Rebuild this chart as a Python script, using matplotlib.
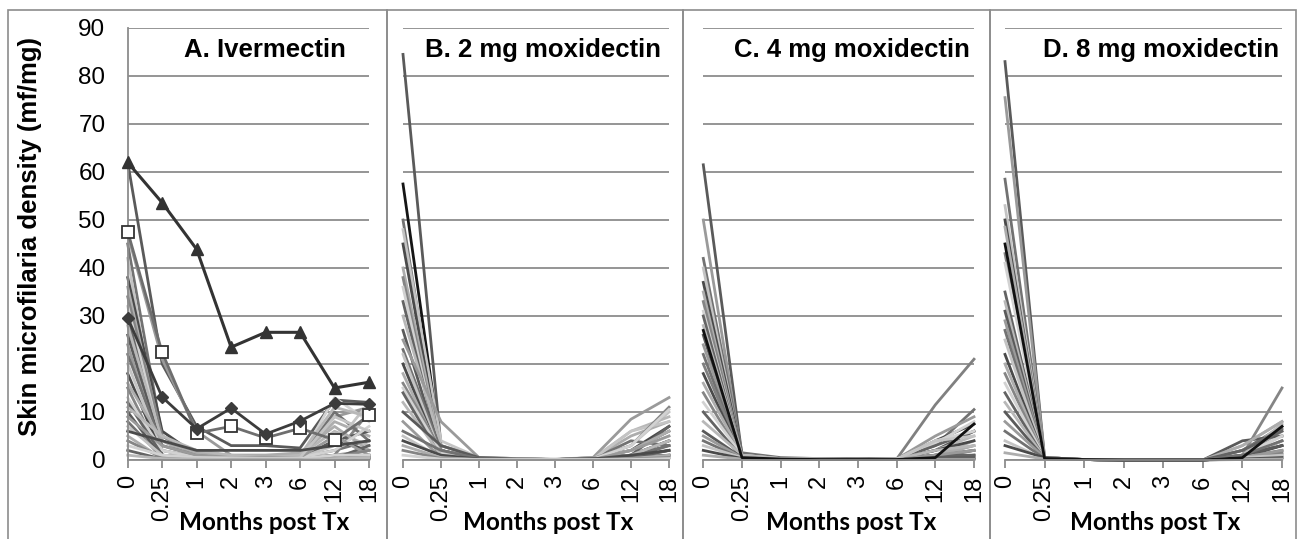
import numpy as np
import matplotlib.pyplot as plt
from matplotlib.patches import Rectangle

# category labels (months after treatment)
months = ["0", "0.25", "1", "2", "3", "6", "12", "18"]

# Panel A - ivermectin, highlighted participants
ivm_triangle = [62, 53.6, 43.9, 23.5, 26.6, 26.6, 15.0, 16.2]
ivm_square = [47.6, 22.4, 5.6, 7.0, 4.6, 6.6, 4.2, 9.3]
ivm_diamond = [29.6, 13.1, 6.5, 10.8, 5.4, 8.1, 11.8, 11.6]

# Panel A - other participants
ivm_lines = [
    [62, 20, 7, 3, 3, 2.5, 12.5, 12],
    [47, 21, 6, 1, 1, 1, 9, 11],
    [45, 5, 1, 0.5, 0.5, 0.5, 2, 4],
    [42, 1, 0.5, 0.3, 0.2, 0.3, 0.5, 1],
    [38, 6, 1, 0.5, 0.5, 0.5, 4, 2],
    [36, 4, 0.5, 0.3, 0.2, 0.5, 8, 5],
    [34, 5, 1, 0.5, 0.3, 0.5, 1, 10],
    [32, 3, 0.5, 0.2, 0.2, 0.3, 13, 8],
    [30, 1, 0.2, 0.1, 0.1, 0.2, 0.3, 0.5],
    [28, 4, 2, 0.5, 0.5, 1, 6, 3],
    [26, 2, 0.5, 0.2, 0.2, 0.3, 4, 6],
    [24, 1, 0.5, 0.3, 0.2, 0.3, 1, 2],
    [22, 3, 1, 0.5, 0.5, 0.5, 10, 4],
    [20, 2, 0.5, 0.3, 0.3, 0.5, 3, 12],
    [18, 1, 0.3, 0.2, 0.1, 0.2, 0.5, 1],
    [16, 4, 1.5, 1, 1, 1.5, 7, 2],
    [15, 0.5, 0.2, 0.1, 0.1, 0.1, 0.5, 0.5],
    [13, 2, 0.5, 0.3, 0.2, 0.5, 2, 7],
    [12, 1, 0.3, 0.2, 0.1, 0.2, 0.3, 3],
    [11, 5, 2, 1, 0.5, 1, 11, 9],
    [10, 0.5, 0.2, 0.1, 0.1, 0.1, 1, 0.5],
    [9, 3, 1, 0.5, 0.5, 0.5, 5, 1],
    [8, 0.5, 0.2, 0.1, 0.1, 0.1, 0.3, 0.5],
    [7, 1, 0.5, 0.5, 0.3, 0.5, 9, 6],
    [6, 4, 2, 2, 2, 2, 3, 4],
    [5, 0.3, 0.1, 0.1, 0.1, 0.1, 0.2, 0.3],
    [4, 0.5, 0.3, 0.2, 0.2, 0.2, 0.5, 2],
    [3, 1, 0.5, 0.3, 0.3, 0.3, 1, 1],
    [2, 0.2, 0.1, 0.1, 0.1, 0.1, 0.1, 0.2],
    [1, 0.3, 0.2, 0.1, 0.1, 0.1, 0.3, 0.5],
]

# Panel B - 2 mg moxidectin
mox2_lines = [
    [84.5, 3, 0.5, 0.3, 0.1, 0.5, 2, 6],
    [57.5, 2, 0.3, 0.1, 0.1, 0.3, 1, 4],
    [50, 1, 0.3, 0.2, 0.1, 0.2, 1, 3],
    [48, 4, 0.5, 0.3, 0.2, 0.5, 3, 10],
    [45, 1, 0.3, 0.1, 0.1, 0.3, 2, 7],
    [40, 2, 0.3, 0.2, 0.1, 0.3, 5, 8],
    [38, 0.5, 0.2, 0.1, 0.1, 0.2, 1, 4],
    [36, 0.5, 0.2, 0.1, 0.1, 0.2, 2, 5],
    [33, 1, 0.3, 0.1, 0.1, 0.3, 1, 7],
    [30, 3, 0.5, 0.2, 0.1, 0.3, 6, 9],
    [27, 1, 0.3, 0.1, 0.1, 0.3, 0.5, 2],
    [25, 8, 0.5, 0.3, 0.1, 0.5, 8.5, 13],
    [23, 2, 0.3, 0.2, 0.1, 0.2, 4, 3],
    [22, 1, 0.2, 0.1, 0.1, 0.2, 6, 8],
    [20, 0.5, 0.2, 0.1, 0.1, 0.2, 0.5, 1],
    [18, 1, 0.3, 0.2, 0.1, 0.3, 2, 6],
    [16, 2, 0.3, 0.1, 0.1, 0.3, 3, 11],
    [15, 1.5, 0.3, 0.1, 0.1, 0.2, 3, 10.5],
    [14, 0.5, 0.2, 0.1, 0.1, 0.1, 0.5, 2],
    [12, 1, 0.3, 0.2, 0.1, 0.2, 1, 4],
    [10, 3, 0.5, 0.2, 0.1, 0.3, 0.5, 1],
    [8, 0.5, 0.2, 0.1, 0.1, 0.1, 2, 5],
    [6, 2, 0.3, 0.1, 0.1, 0.2, 0.5, 3],
    [5, 0.5, 0.1, 0.1, 0.1, 0.1, 0.2, 0.5],
    [4, 1, 0.2, 0.1, 0.1, 0.2, 1, 2],
    [3, 0.5, 0.1, 0.1, 0.1, 0.1, 0.3, 1],
    [2, 0.3, 0.1, 0.1, 0.1, 0.1, 0.2, 0.5],
    [1, 0.2, 0.1, 0.1, 0.1, 0.1, 0.1, 0.3],
]

# Panel C - 4 mg moxidectin
mox4_lines = [
    [61.5, 1, 0.3, 0.2, 0.2, 0.3, 2, 6],
    [50, 0.5, 0.2, 0.1, 0.1, 0.2, 1, 3],
    [42, 1.5, 0.5, 0.3, 0.2, 0.3, 3, 10.5],
    [40, 0.5, 0.2, 0.1, 0.1, 0.1, 0.5, 2],
    [37, 1, 0.3, 0.2, 0.2, 0.2, 4, 7.5],
    [35, 0.5, 0.2, 0.1, 0.1, 0.1, 1, 4],
    [33, 1, 0.3, 0.2, 0.1, 0.2, 0.5, 1],
    [31, 0.5, 0.2, 0.1, 0.1, 0.1, 3.5, 8],
    [30, 0.5, 0.2, 0.1, 0.1, 0.1, 3, 6],
    [28, 1, 0.3, 0.2, 0.1, 0.2, 2, 5],
    [26, 0.5, 0.2, 0.1, 0.1, 0.2, 1, 2],
    [24, 1, 0.3, 0.2, 0.2, 0.2, 5, 9],
    [22, 0.5, 0.2, 0.1, 0.1, 0.1, 0.3, 1],
    [20, 1, 0.3, 0.2, 0.1, 0.2, 11.5, 21],
    [18, 0.5, 0.2, 0.1, 0.1, 0.1, 2, 4],
    [16, 1, 0.3, 0.2, 0.1, 0.2, 1, 3],
    [14, 0.5, 0.2, 0.1, 0.1, 0.1, 0.5, 2],
    [12, 1, 0.2, 0.1, 0.1, 0.2, 4, 6],
    [10, 0.5, 0.2, 0.1, 0.1, 0.1, 1, 1],
    [8, 1, 0.3, 0.2, 0.1, 0.2, 2, 3],
    [6, 0.5, 0.1, 0.1, 0.1, 0.1, 0.5, 0.5],
    [5, 0.5, 0.2, 0.1, 0.1, 0.1, 1, 2],
    [4, 0.3, 0.1, 0.1, 0.1, 0.1, 0.3, 0.3],
    [3, 0.5, 0.2, 0.1, 0.1, 0.1, 4, 5],
    [2, 0.3, 0.1, 0.1, 0.1, 0.1, 0.2, 0.2],
    [1, 0.2, 0.1, 0.1, 0.1, 0.1, 0.1, 0.1],
    [27, 0.5, 0.2, 0.1, 0.1, 0.1, 0.5, 7.5],
]

# Panel D - 8 mg moxidectin
mox8_lines = [
    [83, 0.5, 0.1, 0, 0, 0, 0.5, 3],
    [75.5, 0.5, 0.1, 0, 0, 0, 1, 6],
    [58.5, 0.3, 0.1, 0, 0, 0, 2, 7],
    [53, 0.5, 0.1, 0, 0, 0, 1, 5],
    [50, 0.3, 0.1, 0, 0, 0, 0.5, 4],
    [48.5, 0.5, 0.1, 0, 0, 0, 3, 8],
    [43, 0.3, 0.1, 0, 0, 0, 1, 15],
    [41, 0.5, 0.1, 0, 0, 0, 2, 6],
    [35, 0.3, 0.1, 0, 0, 0, 0.5, 2],
    [33, 0.5, 0.1, 0, 0, 0, 1, 7.5],
    [31, 0.3, 0.1, 0, 0, 0, 4, 5],
    [29, 0.5, 0.1, 0, 0, 0, 1, 1],
    [27, 0.3, 0.1, 0, 0, 0, 2, 6.5],
    [25, 0.5, 0.1, 0, 0, 0, 0.5, 4],
    [22, 0.3, 0.1, 0, 0, 0, 1, 3],
    [20, 0.5, 0.1, 0, 0, 0, 3, 8],
    [18, 0.3, 0.1, 0, 0, 0, 0.5, 1.5],
    [16, 0.5, 0.1, 0, 0, 0, 1, 5],
    [14, 0.3, 0.1, 0, 0, 0, 2, 6],
    [12, 0.5, 0.1, 0, 0, 0, 0.5, 0.5],
    [10, 0.3, 0.1, 0, 0, 0, 1, 3],
    [8, 0.5, 0.1, 0, 0, 0, 0.5, 2],
    [6, 0.3, 0.1, 0, 0, 0, 1, 4],
    [4, 0.2, 0.1, 0, 0, 0, 0.5, 1],
    [3, 0.5, 0.1, 0, 0, 0, 0.2, 0.5],
    [1.5, 0.2, 0.1, 0, 0, 0, 0.1, 0.2],
    [45, 0.3, 0.1, 0, 0, 0, 0.5, 7],
]

titles = ["A. Ivermectin", "B. 2 mg moxidectin", "C. 4 mg moxidectin", "D. 8 mg moxidectin"]
panel_data = [ivm_lines, mox2_lines, mox4_lines, mox8_lines]

greys = ["#5a5a5a", "#9a9a9a", "#727272", "#c4c4c4", "#4a4a4a", "#adadad", "#858585", "#d2d2d2", "#636363", "#b8b8b8"]

W, H = 1298, 539
fig = plt.figure(figsize=(W / 100, H / 100), dpi=100)

# pixel layout: plot area left/right, chart frame left/right
plot_x = [(127.7, 369), (403, 669), (703.3, 974), (1005, 1282)]
frames = [(8, 387), (387, 683), (683, 990), (990, 1296)]
title_x = [0.905, 0.97, 0.985, 0.989]
y_top, y_bot = 28, 460

for (fx0, fx1) in frames:
    fig.patches.append(Rectangle((fx0 / W, -0.05), (fx1 - fx0) / W, 1.05 - 10 / H,
                                 transform=fig.transFigure, fill=False,
                                 edgecolor="#8c8c8c", lw=1.2))

x = np.arange(len(months))
for i, (x0, x1) in enumerate(plot_x):
    ax = fig.add_axes([x0 / W, (H - y_bot) / H, (x1 - x0) / W, (y_bot - y_top) / H])
    ax.set_xlim(0, len(months) - 1)
    ax.set_ylim(0, 90)
    ax.set_yticks(np.arange(0, 91, 10))
    ax.grid(axis="y", color="#8c8c8c", lw=1.3)
    ax.set_axisbelow(True)
    for s in ["top", "right"]:
        ax.spines[s].set_visible(False)
    ax.spines["bottom"].set_color("#8c8c8c")
    ax.spines["bottom"].set_linewidth(1.3)
    if i == 0:
        ax.spines["left"].set_color("#8c8c8c")
        ax.spines["left"].set_linewidth(1.3)
        ax.tick_params(axis="y", length=0, pad=16, labelsize=17.5)
        for lab in ax.get_yticklabels():
            lab.set_family("Liberation Sans")
    else:
        ax.spines["left"].set_visible(False)
        ax.tick_params(axis="y", length=0, labelleft=False)

    ax.set_xticks(x)
    ax.set_xticklabels(months, rotation=90, family="Liberation Sans", fontsize=17)
    ax.tick_params(axis="x", length=6, width=1.3, color="#8c8c8c", pad=5)

    n = len(panel_data[i])
    for j, vals in enumerate(panel_data[i]):
        c = greys[j % len(greys)]
        if i in (2, 3) and j == n - 1:
            c = "#111111"
        if i == 1 and j == 1:
            c = "#151515"
        if i == 2 and j == 13:
            c = "#808080"
        ax.plot(x, vals, color=c, lw=2.0, clip_on=False, zorder=2 + j * 0.01)

    if i == 0:
        ax.plot(x, ivm_square, color="#6e6e6e", lw=2.0, marker="s", ms=8,
                mfc="white", mec="#333333", mew=1.3, clip_on=False, zorder=4)
        ax.plot(x, ivm_diamond, color="#3c3c3c", lw=2.0, marker="D", ms=6.5,
                mfc="#3c3c3c", mec="#3c3c3c", clip_on=False, zorder=5)
        ax.plot(x, ivm_triangle, color="#333333", lw=2.2, marker="^", ms=9,
                mfc="#333333", mec="#333333", clip_on=False, zorder=6)

    ax.text(title_x[i], 0.949, titles[i], transform=ax.transAxes, ha="right", va="center",
            fontsize=18.5, fontweight="bold", family="Liberation Sans", zorder=10)

    cx = (x0 + x1) / 2 + (16 if i == 0 else 12)
    fig.text(cx / W, 1 - 523 / H, "Months post Tx", ha="center", va="center",
             fontsize=17.5, fontweight="bold", family="Lato")

fig.text(30 / W, 1 - 237 / H, "Skin microfilaria density (mf/mg)", rotation=90,
         ha="center", va="center", fontsize=18.5, fontweight="bold", family="Liberation Sans")

fig.savefig("out.png", dpi=100)
